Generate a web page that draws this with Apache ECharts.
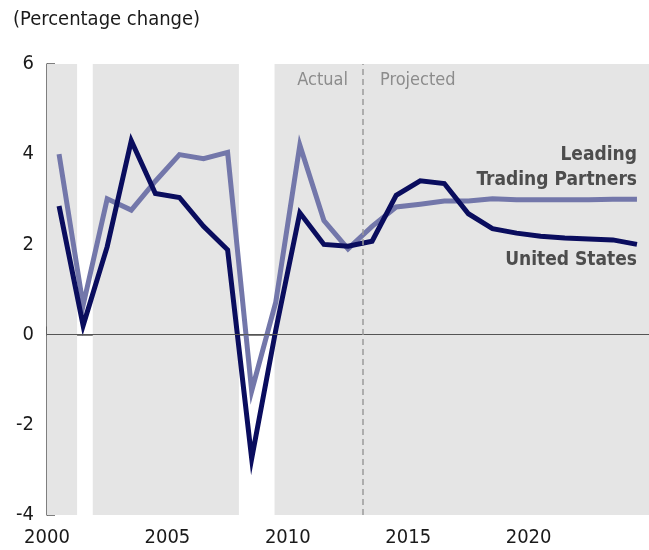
<!DOCTYPE html>
<html lang="en">
<head>
    <meta charset="UTF-8">
    <title>Percentage change</title>
    <style>
        *{ margin: 0; padding: 0; }
        body,html{ width: 100%; height: 100%; background: #fff; }
        #main{ width: 649px; height: 550px; }
    </style>
</head>
<body>
<div id="main"></div>
<script src="https://cdn.jsdelivr.net/npm/echarts@6/dist/echarts.min.js"></script>
<script type="text/javascript">
    // years (points sit at mid-year)
    var years = [2000, 2001, 2002, 2003, 2004, 2005, 2006, 2007, 2008, 2009, 2010, 2011, 2012,
                 2013, 2014, 2015, 2016, 2017, 2018, 2019, 2020, 2021, 2022, 2023, 2024];
    var unitedStates = [2.85, 0.2, 1.95, 4.3, 3.13, 3.04, 2.4, 1.88, -2.75, 0.1, 2.7, 2.0, 1.96,
                        2.07, 3.09, 3.41, 3.35, 2.68, 2.35, 2.25, 2.18, 2.14, 2.12, 2.1, 2.0];
    var tradingPartners = [4.0, 0.65, 3.01, 2.76, 3.4, 3.99, 3.9, 4.04, -1.25, 0.72, 4.2, 2.53, 1.9,
                           2.4, 2.83, 2.89, 2.96, 2.96, 3.01, 2.99, 2.99, 2.99, 2.99, 3.0, 3.0];
    // shaded spans and the actual/projected split
    var shaded = [[2000, 2001.25], [2001.9, 2007.97], [2009.45, 2025]];
    var splitYear = 2013.1;
    var yTicks = [-4, -2, 0, 2, 4, 6];

    var font = '"DejaVu Sans Condensed", "DejaVu Sans", sans-serif';

    function pairs(vals) {
        return years.map(function (y, i) { return [y + 0.5, vals[i]]; });
    }

    var chart = echarts.init(document.getElementById('main'));

    var option = {
        animation: false,
        textStyle: { fontFamily: font },
        grid: { left: 47, right: -2, top: 64, bottom: 35 },
        xAxis: {
            type: 'value',
            min: 2000,
            max: 2025,
            interval: 5,
            axisLine: { lineStyle: { color: '#555', width: 1.5 } },
            axisTick: { inside: true, length: 8, lineStyle: { color: '#555', width: 1.5 } },
            axisLabel: {
                showMaxLabel: false, margin: 13, color: '#1a1a1a', fontSize: 20, fontFamily: font,
                formatter: function (v) { return String(v); }
            },
            splitLine: { show: false }
        },
        yAxis: {
            type: 'value',
            min: yTicks[0],
            max: yTicks[yTicks.length - 1],
            interval: 2,
            axisLine: { show: true, lineStyle: { color: '#555', width: 1.5 } },
            axisTick: { show: true, inside: true, length: 8, lineStyle: { color: '#555', width: 1.5 } },
            axisLabel: { margin: 13, color: '#1a1a1a', fontSize: 20, fontFamily: font },
            splitLine: { show: false }
        },
        graphic: [
            { type: 'text', x: 13, y: 20, style: { text: '(Percentage change)', fill: '#1a1a1a', font: '20px ' + font, verticalAlign: 'middle' } },
            { type: 'text', x: 348, y: 80, style: { text: 'Actual', fill: '#8c8c8c', font: '18px ' + font, align: 'right', verticalAlign: 'middle' }, z: 10 },
            { type: 'text', x: 380, y: 80, style: { text: 'Projected', fill: '#8c8c8c', font: '18px ' + font, align: 'left', verticalAlign: 'middle' }, z: 10 },
            { type: 'text', x: 637, y: 155, style: { text: 'Leading', fill: '#4d4d4d', font: 'bold 19px ' + font, align: 'right', verticalAlign: 'middle' }, z: 10 },
            { type: 'text', x: 637, y: 180, style: { text: 'Trading Partners', fill: '#4d4d4d', font: 'bold 19px ' + font, align: 'right', verticalAlign: 'middle' }, z: 10 },
            { type: 'text', x: 637, y: 260, style: { text: 'United States', fill: '#4d4d4d', font: 'bold 19px ' + font, align: 'right', verticalAlign: 'middle' }, z: 10 }
        ],
        series: [
            {
                // background shading, zero line, split line
                name: 'bg',
                type: 'line',
                data: [],
                z: 1,
                silent: true,
                markArea: {
                    silent: true,
                    itemStyle: { color: '#e5e5e5' },
                    data: shaded.map(function (s) { return [{ xAxis: s[0] }, { xAxis: s[1] }]; })
                },
                markLine: {
                    silent: true,
                    symbol: 'none',
                    label: { show: false },
                    data: [
                        { yAxis: 0, lineStyle: { color: '#555', width: 1.2, type: 'solid' } },
                        { xAxis: splitYear, lineStyle: { color: '#9a9a9a', width: 1.5, type: [6, 4] } }
                    ]
                }
            },
            {
                name: 'Leading Trading Partners',
                type: 'line',
                data: pairs(tradingPartners),
                z: 3,
                showSymbol: false,
                lineStyle: { color: '#7377aa', width: 5, cap: 'butt', join: 'miter' }
            },
            {
                name: 'United States',
                type: 'line',
                data: pairs(unitedStates),
                z: 4,
                showSymbol: false,
                lineStyle: { color: '#0a0d5e', width: 5, cap: 'butt', join: 'miter' }
            }
        ]
    };

    chart.setOption(option);
</script>
</body>
</html>
